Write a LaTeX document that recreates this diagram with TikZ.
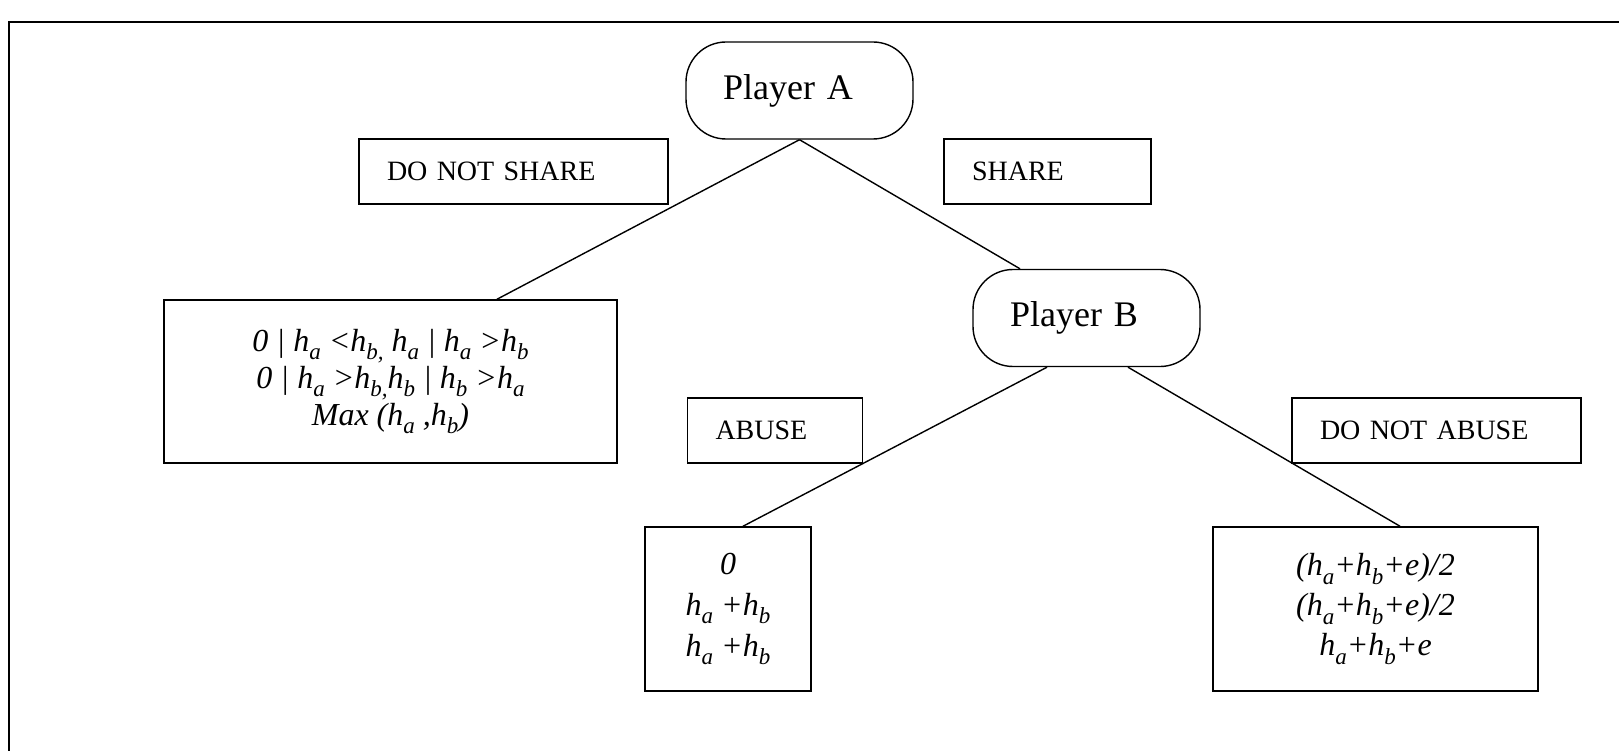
\documentclass[tikz,border=0pt]{standalone}
\usepackage{fontspec}
\setmainfont{Liberation Serif}
\usepackage{tikz}
\usetikzlibrary{calc}

\newcommand{\hsub}[1]{\textit{h}\raisebox{-.26em}{\fontsize{23}{23}\selectfont\textit{#1}}}

\tikzset{
  player/.style={draw, line width=1.4pt, rounded corners=40pt, align=left, inner xsep=37pt,
    text width=153pt, minimum height=97pt, font=\fontsize{36}{36}\selectfont},
  lbl/.style={draw, line width=1.5pt, align=left, inner xsep=28pt, inner ysep=0pt,
    minimum height=65pt, font=\fontsize{28}{28}\selectfont},
  payoff/.style={draw, line width=1.5pt, align=center, inner sep=0pt,
    font=\fontsize{32}{37}\selectfont\itshape},
  branch/.style={line width=1.4pt}
}

\begin{document}
\begin{tikzpicture}[x=1pt,y=-1pt]
\useasboundingbox (0,0) rectangle (1619,751);
\draw[line width=1.8pt] (1619,22) -- (9,22) -- (9,751);

\node[player] (pa) at (799.5,90.5) {Player A};
\node[player] (pb) at (1086.5,318) {Player B};

\node[lbl, text width=253pt] (noshare) at (513.5,171.5) {DO NOT SHARE};
\node[lbl, text width=151pt] (share) at (1047.5,171.5) {SHARE};
\node[lbl, text width=119pt] (abuse) at (775,430.5) {ABUSE};
\node[lbl, text width=233pt] (noabuse) at (1436.5,430.5) {DO NOT ABUSE};

\node[payoff, minimum width=453pt, minimum height=163pt] (rnoshare) at (390.5,381.5)
  {0 | \hsub{a} <\hsub{b,} \hsub{a} | \hsub{a} >\hsub{b}\\
   0 | \hsub{a} >\hsub{b,}\hsub{b} | \hsub{b} >\hsub{a}\\
   Max (\hsub{a} ,\hsub{b})};
\node[payoff, minimum width=166pt, minimum height=164pt, font=\fontsize{32}{41}\selectfont\itshape] (rabuse) at (728,609)
  {0\\ \hsub{a} +\hsub{b}\\ \hsub{a} +\hsub{b}};
\node[payoff, minimum width=325pt, minimum height=164pt, font=\fontsize{32}{40}\selectfont\itshape] (rnoabuse) at (1375.5,609)
  {(\hsub{a}+\hsub{b}+e)/2\\ (\hsub{a}+\hsub{b}+e)/2\\ \hsub{a}+\hsub{b}+e};

\draw[branch] (pa.south) -- ([xshift=106.5pt]rnoshare.north);
\draw[branch] (pa.south) -- ([xshift=-66.5pt]pb.north);
\draw[branch] ([xshift=-39.5pt]pb.south) -- ([xshift=15pt]rabuse.north);
\draw[branch] ([xshift=41.5pt]pb.south) -- ([xshift=24.5pt]rnoabuse.north);
\end{tikzpicture}
\end{document}
